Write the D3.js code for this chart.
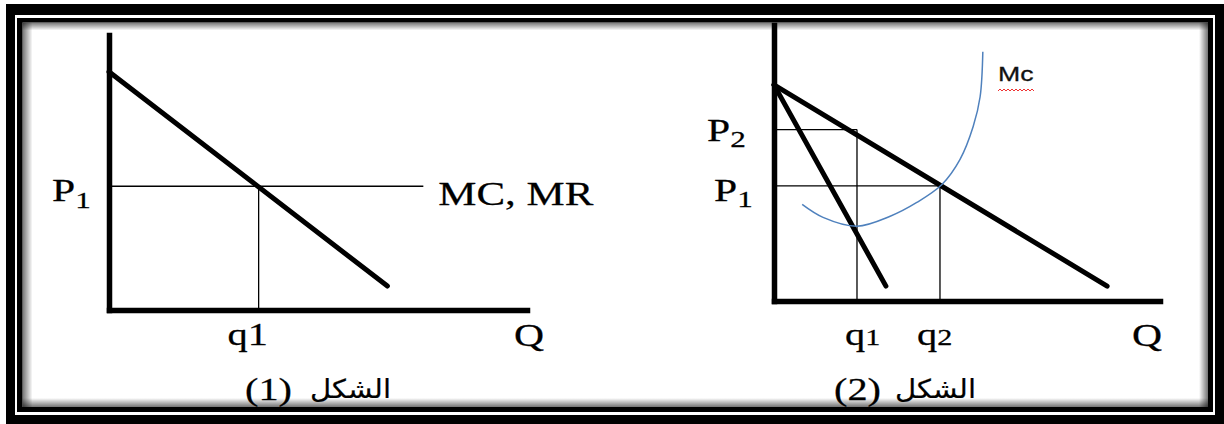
<!DOCTYPE html>
<html><head><meta charset="utf-8">
<script src="https://cdn.jsdelivr.net/npm/d3@7"></script>
<style>html,body{margin:0;padding:0;background:#fff;} svg{display:block}</style>
</head><body>
<svg id="c" width="1224" height="424"></svg>
<script>
// ---------- DATA (arbitrary units: quantity on x, price on y) ----------
// Figure 1
const fig1Demand   = [[0, 86.6], [66.6, 8.7]];
const fig1Price    = [45];          // P1
const fig1PriceEnd = [75.2];        // MC, MR line reaches this quantity
const fig1Qty      = [35.8];        // q1
const fig1YLabels  = [["P", "1"]];
const fig1XLabels  = ["q1"];
const fig1LineLbl  = ["MC, MR"];
const fig1Caption  = ["(1)", "الشكل"];
// Figure 2
const fig2Demand   = [[0, 78.3], [86.3, 5.4]];
const fig2MR       = [[0, 78.3], [29.0, 5.4]];
const fig2Prices   = [62.1, 41.7];  // P2, P1
const fig2Qty      = [21.5, 43.0];  // q1, q2
const fig2MC       = [[7.3, 35.0], [12.7, 30.3], [21.5, 27.1], [30.1, 30.7], [37.0, 35.7],
                      [43.5, 42.2], [48.2, 51.3], [51.6, 63.2], [53.4, 74.0], [54.1, 90.3]];
const fig2YLabels  = [["P", "2"], ["P", "1"]];
const fig2XLabels  = [["q", "1"], ["q", "2"]];
const fig2MCLabel  = ["Mc"];
const fig2Caption  = ["(2)", "الشكل"];
const axisLabel    = ["Q"];

// ---------- SETUP ----------
const svg = d3.select("#c");
const SX = 1.3;              // horizontal stretch of the original picture
const serif = "'Liberation Serif','Times New Roman',serif";
const arabic = "'DejaVu Sans',sans-serif";
const defs = svg.append("defs");

// frame
svg.append("rect").attr("x", 6).attr("y", 4).attr("width", 1218).attr("height", 420).attr("fill", "#000");
svg.append("rect").attr("x", 15).attr("y", 15).attr("width", 1200).attr("height", 400).attr("fill", "#fff");
svg.append("rect").attr("x", 17).attr("y", 18).attr("width", 1196).attr("height", 394).attr("fill", "#000");
svg.append("rect").attr("x", 22.5).attr("y", 22.5).attr("width", 1185.5).attr("height", 384.5).attr("fill", "#fff");
function grad(id, x1, y1, x2, y2) {
  const g = defs.append("linearGradient").attr("id", id)
    .attr("x1", x1).attr("y1", y1).attr("x2", x2).attr("y2", y2);
  g.append("stop").attr("offset", "0").attr("stop-color", "#000").attr("stop-opacity", 0.55);
  g.append("stop").attr("offset", "1").attr("stop-color", "#000").attr("stop-opacity", 0);
}
grad("gT", 0, 0, 0, 1); grad("gB", 0, 1, 0, 0); grad("gL", 0, 0, 1, 0); grad("gR", 1, 0, 0, 0);
svg.append("rect").attr("x", 22.5).attr("y", 22.5).attr("width", 1185.5).attr("height", 8).attr("fill", "url(#gT)");
svg.append("rect").attr("x", 22.5).attr("y", 398).attr("width", 1185.5).attr("height", 9).attr("fill", "url(#gB)");
svg.append("rect").attr("x", 22.5).attr("y", 22.5).attr("width", 10).attr("height", 384.5).attr("fill", "url(#gL)");
svg.append("rect").attr("x", 1199).attr("y", 22.5).attr("width", 9).attr("height", 384.5).attr("fill", "url(#gR)");

function txt(x, y, size, family, parts, opt = {}) {
  const g = svg.append("g").attr("transform", `translate(${x},${y}) scale(${opt.sx ?? SX},1)`);
  const fill = opt.fill || "#000";
  const t = g.append("text").attr("font-family", family).attr("font-size", size)
    .attr("fill", fill).attr("stroke", fill).attr("stroke-width", opt.sw ?? 0.25)
    .attr("text-anchor", opt.anchor || "start");
  t.append("tspan").text(parts[0]);
  if (parts[1] !== undefined) {
    t.append("tspan").attr("font-size", size * (opt.subScale ?? 0.72)).attr("dy", opt.subDy ?? 8).text(parts[1]);
  }
  return t;
}

function drawAxes(xs, ys) {
  const gx = svg.append("g").attr("transform", `translate(0,${ys.range()[0]})`)
    .call(d3.axisBottom(xs).tickValues([]).tickSizeOuter(0));
  const gy = svg.append("g").attr("transform", `translate(${xs.range()[0]},0)`)
    .call(d3.axisLeft(ys).tickValues([]).tickSizeOuter(0));
  [gx, gy].forEach(g => g.select(".domain").attr("stroke", "#000").attr("stroke-width", 5.5)
    .attr("stroke-linecap", "square"));
}

const line = d3.line();

// ---------- FIGURE 1 ----------
const x1 = d3.scaleLinear().domain([0, 100]).range([109, 527]);
const y1 = d3.scaleLinear().domain([0, 100]).range([310, 35]);

svg.append("line").attr("x1", x1(0)).attr("x2", x1(fig1PriceEnd[0]))
  .attr("y1", y1(fig1Price[0])).attr("y2", y1(fig1Price[0]))
  .attr("stroke", "#000").attr("stroke-width", 1.3);
svg.append("line").attr("x1", x1(fig1Qty[0])).attr("x2", x1(fig1Qty[0]))
  .attr("y1", y1(fig1Price[0])).attr("y2", y1(0))
  .attr("stroke", "#000").attr("stroke-width", 1.3);
drawAxes(x1, y1);
svg.append("path").attr("d", line(fig1Demand.map(d => [x1(d[0]), y1(d[1])])))
  .attr("fill", "none").attr("stroke", "#000").attr("stroke-width", 5).attr("stroke-linecap", "round");

txt(52, y1(fig1Price[0]) + 15, 32, serif, fig1YLabels[0], { subDy: 7, subScale: 0.75 });
txt(x1(fig1PriceEnd[0]) + 15, y1(fig1Price[0]) + 19, 33, serif, [fig1LineLbl[0]]);
txt(x1(fig1Qty[0]) - 11, 345, 31, serif, [fig1XLabels[0]], { anchor: "middle" });
txt(514, 346, 32, serif, [axisLabel[0]]);
txt(245, 400, 31, serif, [fig1Caption[0]]);
txt(391, 398, 26, arabic, [fig1Caption[1]], { anchor: "end", sw: 0.2, sx: 1.12 });

// ---------- FIGURE 2 ----------
const x2 = d3.scaleLinear().domain([0, 100]).range([774, 1160]);
const y2 = d3.scaleLinear().domain([0, 100]).range([301, 25]);

fig2Prices.forEach((p, i) => {
  svg.append("line").attr("x1", x2(0)).attr("x2", x2(fig2Qty[i]))
    .attr("y1", y2(p)).attr("y2", y2(p)).attr("stroke", "#000").attr("stroke-width", 1.3);
  svg.append("line").attr("x1", x2(fig2Qty[i])).attr("x2", x2(fig2Qty[i]))
    .attr("y1", y2(p)).attr("y2", y2(0)).attr("stroke", "#000").attr("stroke-width", 1.3);
});
drawAxes(x2, y2);
[fig2Demand, fig2MR].forEach(d => {
  svg.append("path").attr("d", line(d.map(v => [x2(v[0]), y2(v[1])])))
    .attr("fill", "none").attr("stroke", "#000").attr("stroke-width", 5).attr("stroke-linecap", "round");
});
svg.append("path")
  .attr("d", d3.line().curve(d3.curveCatmullRom)(fig2MC.map(v => [x2(v[0]), y2(v[1])])))
  .attr("fill", "none").attr("stroke", "#4F81BD").attr("stroke-width", 1.5);

txt(707, y2(fig2Prices[0]) + 11, 32, serif, fig2YLabels[0], { subDy: 6, subScale: 0.75 });
txt(714, y2(fig2Prices[1]) + 15, 32, serif, fig2YLabels[1], { subDy: 6, subScale: 0.75 });
txt(845, 345, 31, serif, fig2XLabels[0], { subDy: 0, subScale: 0.75 });
txt(917, 345, 31, serif, fig2XLabels[1], { subDy: 0, subScale: 0.75 });
txt(1132, 346, 32, serif, [axisLabel[0]]);
txt(998, 81, 20.5, "'Liberation Sans',Arial,sans-serif", [fig2MCLabel[0]], { fill: "#111", sw: 0.3 });
// spell-check style red wavy underline under "Mc"
const wave = [];
for (let x = 998; x <= 1034; x += 2) wave.push([x, (x - 998) % 4 === 0 ? 91 : 89]);
svg.append("path").attr("d", d3.line()(wave)).attr("fill", "none").attr("stroke", "#e33").attr("stroke-width", 1);
txt(834, 400, 31, serif, [fig2Caption[0]]);
txt(976, 398, 26, arabic, [fig2Caption[1]], { anchor: "end", sw: 0.2, sx: 1.12 });
</script>
</body></html>
